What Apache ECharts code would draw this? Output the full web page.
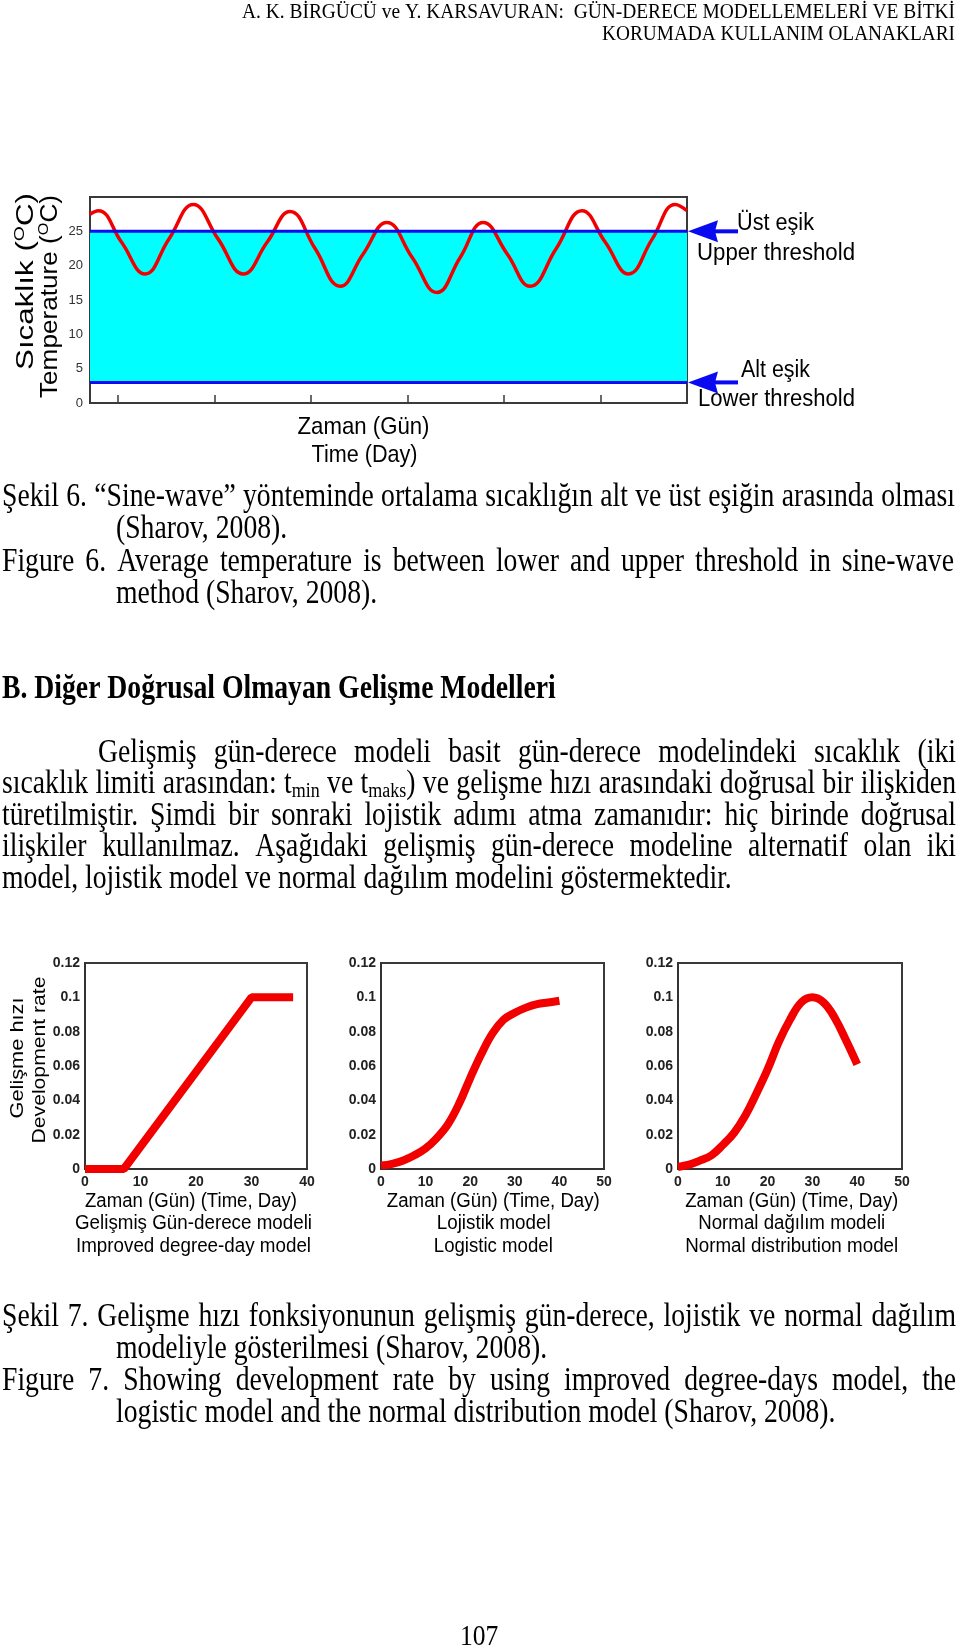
<!DOCTYPE html>
<html><head><meta charset="utf-8">
<script src="https://cdn.jsdelivr.net/npm/echarts@6/dist/echarts.min.js"></script>
<style>html,body{margin:0;padding:0;background:#fff}#c{width:960px;height:1650px}</style>
</head><body><div id="c"></div>
<script>
// ---------- Figure 6 : sine-wave temperature ----------
const sineDays  = [0.710,0.796,1.037,1.280,1.528,1.780,2.036,2.298,2.544,2.782,3.041,3.301,3.539,3.784,4.047,4.303,4.544,4.782,5.031,5.269,5.539,5.805,6.047,6.288,6.534,6.772,6.893];
const sineTemps = [27.5,28.0,23.4,18.8,23.9,28.9,23.9,18.8,23.4,27.9,22.5,17.0,21.7,26.3,21.2,16.1,21.2,26.3,21.7,17.0,22.5,28.0,23.4,18.8,23.9,28.9,28.0];
const lowerThreshold = 3;
const upperThreshold = 25;
const dayRange = [0.71, 6.893];
const dayTicks = [1, 2, 3, 4, 5, 6];
const tempAxis = [0, 30, 5];

// ---------- Figure 7 : development rate models ----------
const ddDays   = [0, 7, 30, 37.5];
const ddRates  = [0, 0, 0.1, 0.1];
const logDays  = [0,2.5,5,7.5,10,12.5,15,17.5,20,22.5,25,27.5,30,32.5,35,37.5,40];
const logRates = [0.002,0.003,0.005,0.008,0.012,0.018,0.026,0.038,0.053,0.067,0.079,0.087,0.091,0.094,0.096,0.097,0.098];
const normDays  = [0,2.5,5,7.5,10,12.5,15,17.5,20,22.5,25,27.5,30,32.5,35,37.5,40];
const normRates = [0.0012,0.0025,0.005,0.008,0.014,0.021,0.031,0.044,0.058,0.074,0.087,0.097,0.1,0.097,0.088,0.075,0.061];
const rateAxis = [0, 0.12, 0.02];
const dayAxisMax = [40, 50, 50];

const zip = (a, b) => a.map((v, i) => [v, b[i]]);
const SANS = '"Liberation Sans", Arial, sans-serif';
const SERIF = '"Liberation Serif", "Times New Roman", serif';

const chart = echarts.init(document.getElementById('c'), null, {renderer: 'canvas'});

const botGrids = [
  {left: 85, top: 963, width: 222, height: 206},
  {left: 381, top: 963, width: 223, height: 206},
  {left: 678, top: 963, width: 224, height: 206}
];
const grids = [{left: 90, top: 197, width: 597, height: 206}].concat(botGrids)
  .map(g => Object.assign({show: true, borderColor: '#3a3a3a', borderWidth: 2, backgroundColor: '#fff', containLabel: false}, g));

const xAxes = [{
  type: 'value', gridIndex: 0, min: dayRange[0], max: dayRange[1],
  axisLine: {show: true, lineStyle: {color: '#3a3a3a', width: 2}},
  axisTick: {show: true, inside: true, length: 8, customValues: dayTicks, lineStyle: {color: '#3a3a3a', width: 1.5}},
  axisLabel: {show: false}, splitLine: {show: false}
}];
const yAxes = [{
  type: 'value', gridIndex: 0, min: tempAxis[0], max: tempAxis[1], interval: tempAxis[2],
  axisLine: {show: true, lineStyle: {color: '#3a3a3a', width: 2}},
  axisTick: {show: false},
  axisLabel: {fontFamily: SANS, fontSize: 13, color: '#333', margin: 7, formatter: v => v === tempAxis[1] ? '' : String(v)},
  splitLine: {show: false}
}];
for (let i = 0; i < 3; i++) {
  xAxes.push({
    type: 'value', gridIndex: i + 1, min: 0, max: dayAxisMax[i], interval: 10,
    axisLine: {show: true, lineStyle: {color: '#333', width: 2}},
    axisTick: {show: false},
    axisLabel: {fontFamily: SANS, fontSize: 14, fontWeight: 'bold', color: '#222', margin: 6},
    splitLine: {show: false}
  });
  yAxes.push({
    type: 'value', gridIndex: i + 1, min: rateAxis[0], max: rateAxis[1], interval: rateAxis[2],
    axisLine: {show: true, lineStyle: {color: '#333', width: 2}},
    axisTick: {show: false},
    axisLabel: {fontFamily: SANS, fontSize: 14, fontWeight: 'bold', color: '#222', margin: 5,
      formatter: v => String(+v.toFixed(2))},
    splitLine: {show: false}
  });
}

const red = '#f20000', blue = '#0a0af0';
const series = [
  {
    name: 'Üst eşik', type: 'line', xAxisIndex: 0, yAxisIndex: 0, symbol: 'none', z: 4,
    data: [[dayRange[0], upperThreshold], [dayRange[1], upperThreshold]],
    lineStyle: {color: blue, width: 3},
    markArea: {silent: true, itemStyle: {color: '#00ffff'},
      data: [[{coord: [dayRange[0], lowerThreshold]}, {coord: [dayRange[1], upperThreshold]}]]}
  },
  {
    name: 'Alt eşik', type: 'line', xAxisIndex: 0, yAxisIndex: 0, symbol: 'none', z: 4,
    data: [[dayRange[0], lowerThreshold], [dayRange[1], lowerThreshold]],
    lineStyle: {color: blue, width: 3}
  },
  {
    name: 'Sıcaklık', type: 'line', xAxisIndex: 0, yAxisIndex: 0, symbol: 'none', smooth: 0.45, z: 3,
    data: zip(sineDays, sineTemps), lineStyle: {color: red, width: 3.5}
  },
  {
    name: 'Gelişmiş gün-derece', type: 'line', xAxisIndex: 1, yAxisIndex: 1, symbol: 'none',
    data: zip(ddDays, ddRates), lineStyle: {color: red, width: 8}
  },
  {
    name: 'Lojistik', type: 'line', xAxisIndex: 2, yAxisIndex: 2, symbol: 'none', smooth: 0.4,
    data: zip(logDays, logRates), lineStyle: {color: red, width: 8}
  },
  {
    name: 'Normal dağılım', type: 'line', xAxisIndex: 3, yAxisIndex: 3, symbol: 'none', smooth: 0.4,
    data: zip(normDays, normRates), lineStyle: {color: red, width: 8}
  }
];

chart.setOption({animation: false, backgroundColor: '#fff', grid: grids, xAxis: xAxes, yAxis: yAxes, series: series});

// ---------- text helpers ----------
const cv = document.createElement('canvas').getContext('2d');
function measure(t, font) { cv.font = font; return cv.measureText(t).width; }
const G = [];
function txt(text, x, y, o) {
  o = o || {};
  const size = o.size || 27.7, fam = o.family || SERIF, weight = o.weight || 'normal';
  const w = measure(text, `${weight} ${size}px ${fam}`);
  const sx = o.width ? o.width / w : 1;
  const align = o.align || 'left';
  G.push({type: 'text', x: x, y: y, rotation: o.rotation || 0, scaleX: sx, scaleY: o.scaleY || 1, z: 100,
    style: {text: text, fontSize: size, fontFamily: fam, fontWeight: weight, fill: o.color || '#000',
      textAlign: align, textVerticalAlign: 'middle', align: align, verticalAlign: 'middle'}});
}
function parseWord(w) {
  const segs = []; const re = /_\{([^}]*)\}/g; let last = 0, m;
  while ((m = re.exec(w))) { if (m.index > last) segs.push({t: w.slice(last, m.index), sub: false}); segs.push({t: m[1], sub: true}); last = re.lastIndex; }
  if (last < w.length) segs.push({t: w.slice(last), sub: false});
  return segs;
}
const BODY_SY = 1.2;
function line(text, x0, x1, y, o) {
  o = o || {};
  const size = o.size || 27.7, fam = o.family || SERIF, weight = o.weight || 'normal';
  const font = `${weight} ${size}px ${fam}`, sfont = `${weight} ${size * 0.65}px ${fam}`;
  const words = text.split(' ').map(parseWord);
  const widths = words.map(ss => ss.reduce((a, s) => a + measure(s.t, s.sub ? sfont : font), 0));
  const total = widths.reduce((a, b) => a + b, 0);
  const gap = o.justify ? (x1 - x0 - total) / (words.length - 1) : measure(' ', font);
  let x = x0;
  words.forEach((ss, i) => {
    ss.forEach(s => {
      const f = s.sub ? sfont : font;
      G.push({type: 'text', x: x, y: s.sub ? y + size * 0.26 : y, scaleY: BODY_SY, z: 100,
        style: {text: s.t, fontSize: s.sub ? size * 0.65 : size, fontFamily: fam, fontWeight: weight, fill: '#000',
          textAlign: 'left', textVerticalAlign: 'middle', align: 'left', verticalAlign: 'middle'}});
      x += measure(s.t, f);
    });
    x += gap;
  });
}

// header
txt('A. K. BİRGÜCÜ ve Y. KARSAVURAN:  GÜN-DERECE MODELLEMELERİ VE BİTKİ', 955, 13, {size: 19.4, align: 'right', width: 713, scaleY: 1.05});
txt('KORUMADA KULLANIM OLANAKLARI', 955, 35, {size: 19.4, align: 'right', width: 353, scaleY: 1.05});

// Figure 6 chart texts
txt('Zaman (Gün)', 363.5, 427, {family: SANS, size: 22, align: 'center', width: 132, scaleY: 1.1});
txt('Time (Day)', 364.5, 455, {family: SANS, size: 22, align: 'center', width: 106, scaleY: 1.1});
function rotTitle(main1, main2, cx, cy, len, size) {
  const f = `normal ${size}px ${SANS}`, sf = `normal ${size * 0.62}px ${SANS}`;
  const w = measure(main1, f) + measure('O', sf) + measure(main2, f);
  G.push({type: 'text', x: cx, y: cy, rotation: Math.PI / 2, scaleX: len / w, z: 100,
    style: {text: main1 + '{s|O}' + main2, fontSize: size, fontFamily: SANS, fill: '#000', lineHeight: size * 1.2,
      textAlign: 'center', textVerticalAlign: 'middle', align: 'center', verticalAlign: 'middle',
      rich: {s: {fontSize: size * 0.62, fontFamily: SANS, fill: '#000', lineHeight: size * 0.62, verticalAlign: 'top'}}}});
}
rotTitle('Sıcaklık (', 'C)', 27, 281.5, 177, 23);
rotTitle('Temperature (', 'C)', 51, 296.5, 203, 23);
txt('Üst eşik', 737, 223, {family: SANS, size: 22, width: 77, scaleY: 1.1});
txt('Upper threshold', 697, 253, {family: SANS, size: 22, width: 158, scaleY: 1.1});
txt('Alt eşik', 741, 370, {family: SANS, size: 22, width: 69, scaleY: 1.1});
txt('Lower threshold', 698, 399, {family: SANS, size: 22, width: 157, scaleY: 1.1});

// arrows to thresholds (positions from the axis scale)
[upperThreshold, lowerThreshold].forEach(th => {
  const p = chart.convertToPixel({gridIndex: 0}, [dayRange[1], th]);
  const x = p[0] + 1, y = p[1];
  G.push({type: 'line', z: 90, shape: {x1: x + 24, y1: y, x2: x + 50, y2: y}, style: {stroke: blue, lineWidth: 4}});
  G.push({type: 'polygon', z: 90, shape: {points: [[x, y], [x + 30, y - 11], [x + 27, y], [x + 30, y + 11]]}, style: {fill: blue}});
});

// captions & paragraph
line('Şekil 6. “Sine-wave” yönteminde ortalama sıcaklığın alt ve üst eşiğin arasında olması', 2, 955, 497, {justify: true});
line('(Sharov, 2008).', 116, 956, 529);
line('Figure 6. Average temperature is between lower and upper threshold in sine-wave', 2, 954, 562, {justify: true});
line('method (Sharov, 2008).', 116, 956, 594);
line('B. Diğer Doğrusal Olmayan Gelişme Modelleri', 2, 956, 689, {weight: 'bold'});
line('Gelişmiş gün-derece modeli basit gün-derece modelindeki sıcaklık (iki', 98, 956, 753, {justify: true});
line('sıcaklık limiti arasından: t_{min} ve t_{maks}) ve gelişme hızı arasındaki doğrusal bir ilişkiden', 2, 956, 784, {justify: true});
line('türetilmiştir. Şimdi bir sonraki lojistik adımı atma zamanıdır: hiç birinde doğrusal', 2, 956, 816, {justify: true});
line('ilişkiler kullanılmaz. Aşağıdaki gelişmiş gün-derece modeline alternatif olan iki', 2, 956, 847, {justify: true});
line('model, lojistik model ve normal dağılım modelini göstermektedir.', 2, 956, 879);

// Figure 7 chart texts
txt('Gelişme hızı', 18, 1058, {family: SANS, size: 19, align: 'center', rotation: Math.PI / 2, width: 121});
txt('Development rate', 40, 1060, {family: SANS, size: 19, align: 'center', rotation: Math.PI / 2, width: 167});
const sub = [
  ['Zaman (Gün) (Time, Day)', 191, 212, 'Gelişmiş Gün-derece modeli', 193.5, 237, 'Improved degree-day model', 193.5, 235],
  ['Zaman (Gün) (Time, Day)', 493.3, 213, 'Lojistik model', 493.7, 114, 'Logistic model', 493.3, 119],
  ['Zaman (Gün) (Time, Day)', 791.7, 213, 'Normal dağılım modeli', 791.7, 187, 'Normal distribution model', 791.7, 213]
];
sub.forEach(s => {
  txt(s[0], s[1], 1202, {family: SANS, size: 19, align: 'center', width: s[2], scaleY: 1.05});
  txt(s[3], s[4], 1224, {family: SANS, size: 19, align: 'center', width: s[5], scaleY: 1.05});
  txt(s[6], s[7], 1247, {family: SANS, size: 19, align: 'center', width: s[8], scaleY: 1.05});
});

line('Şekil 7. Gelişme hızı fonksiyonunun gelişmiş gün-derece, lojistik ve normal dağılım', 2, 956, 1317, {justify: true});
line('modeliyle gösterilmesi (Sharov, 2008).', 116, 956, 1349);
line('Figure 7. Showing development rate by using improved degree-days model, the', 2, 956, 1381, {justify: true});
line('logistic model and the normal distribution model (Sharov, 2008).', 116, 956, 1413);

txt('107', 479, 1637, {size: 25.5, align: 'center', scaleY: 1.12});

chart.setOption({graphic: {elements: G}});
</script></body></html>
